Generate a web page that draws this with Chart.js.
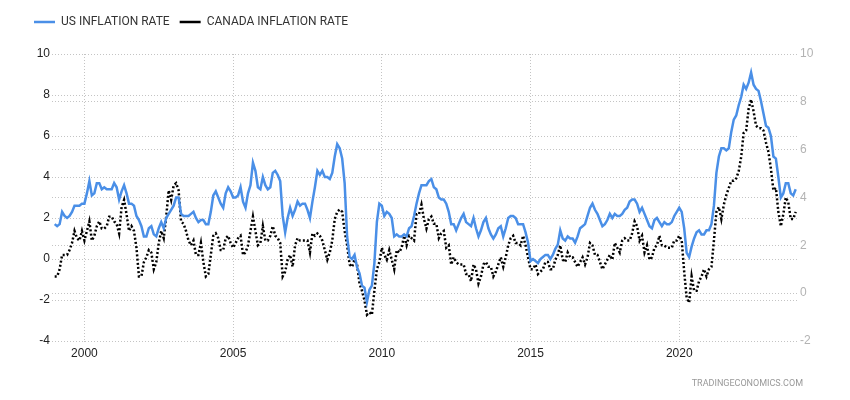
<!DOCTYPE html>
<html lang="en">
<head>
<meta charset="UTF-8">
<title>US vs Canada Inflation Rate</title>
<script src="https://cdn.jsdelivr.net/npm/chart.js"></script>
<style>
    body { margin: 0; background: #fff; }
    .wrap { position: relative; width: 850px; height: 400px; }
    .source { position: absolute; right: 47px; top: 378px; font: 9px Roboto, sans-serif; color: #999; }
</style>
</head>
<body>

<div class="wrap">
    <canvas id="inflationChart"></canvas>
    <div class="source">TRADINGECONOMICS.COM</div>
</div>

<script>
    // monthly readings, Jan 1999 .. Dec 2023 (one row per year)
    const firstYear = 1999;

    const usRate = [
        1.7, 1.6, 1.7, 2.3, 2.1, 2.0, 2.1, 2.3, 2.6, 2.6, 2.6, 2.7,   // 1999
        2.7, 3.2, 3.8, 3.1, 3.2, 3.7, 3.7, 3.4, 3.5, 3.4, 3.4, 3.4,   // 2000
        3.7, 3.5, 2.9, 3.3, 3.6, 3.2, 2.7, 2.7, 2.6, 2.1, 1.9, 1.6,   // 2001
        1.1, 1.1, 1.5, 1.6, 1.2, 1.1, 1.5, 1.8, 1.5, 2.0, 2.2, 2.4,   // 2002
        2.6, 3.0, 3.0, 2.2, 2.1, 2.1, 2.1, 2.2, 2.3, 2.0, 1.8, 1.9,   // 2003
        1.9, 1.7, 1.7, 2.3, 3.1, 3.3, 3.0, 2.7, 2.5, 3.2, 3.5, 3.3,   // 2004
        3.0, 3.0, 3.1, 3.5, 2.8, 2.5, 3.2, 3.6, 4.7, 4.3, 3.5, 3.4,   // 2005
        4.0, 3.6, 3.4, 3.5, 4.2, 4.3, 4.1, 3.8, 2.1, 1.3, 2.0, 2.5,   // 2006
        2.1, 2.4, 2.8, 2.6, 2.7, 2.7, 2.4, 2.0, 2.8, 3.5, 4.3, 4.1,   // 2007
        4.3, 4.0, 4.0, 3.9, 4.2, 5.0, 5.6, 5.4, 4.9, 3.7, 1.1, 0.1,   // 2008
        0.0, 0.2, -0.4, -0.7, -1.3, -1.4, -2.1, -1.5, -1.3, -0.2, 1.8, 2.7, // 2009
        2.6, 2.1, 2.3, 2.2, 2.0, 1.1, 1.2, 1.1, 1.1, 1.2, 1.1, 1.5,   // 2010
        1.6, 2.1, 2.7, 3.2, 3.6, 3.6, 3.6, 3.8, 3.9, 3.5, 3.4, 3.0,   // 2011
        2.9, 2.9, 2.7, 2.3, 1.7, 1.7, 1.4, 1.7, 2.0, 2.2, 1.8, 1.7,   // 2012
        1.6, 2.0, 1.5, 1.1, 1.4, 1.8, 2.0, 1.5, 1.2, 1.0, 1.2, 1.5,   // 2013
        1.6, 1.1, 1.5, 2.0, 2.1, 2.1, 2.0, 1.7, 1.7, 1.7, 1.3, 0.8,   // 2014
        -0.1, 0.0, -0.1, -0.2, 0.0, 0.1, 0.2, 0.2, 0.0, 0.2, 0.5, 0.7, // 2015
        1.4, 1.0, 0.9, 1.1, 1.0, 1.0, 0.8, 1.1, 1.5, 1.6, 1.7, 2.1,   // 2016
        2.5, 2.7, 2.4, 2.2, 1.9, 1.6, 1.7, 1.9, 2.2, 2.0, 2.2, 2.1,   // 2017
        2.1, 2.2, 2.4, 2.5, 2.8, 2.9, 2.9, 2.7, 2.3, 2.5, 2.2, 1.9,   // 2018
        1.6, 1.5, 1.9, 2.0, 1.8, 1.6, 1.8, 1.7, 1.7, 1.8, 2.1, 2.3,   // 2019
        2.5, 2.3, 1.5, 0.3, 0.1, 0.6, 1.0, 1.3, 1.4, 1.2, 1.2, 1.4,   // 2020
        1.4, 1.7, 2.6, 4.2, 5.0, 5.4, 5.4, 5.3, 5.4, 6.2, 6.8, 7.0,   // 2021
        7.5, 7.9, 8.5, 8.3, 8.6, 9.1, 8.5, 8.3, 8.2, 7.7, 7.1, 6.5,   // 2022
        6.4, 6.0, 5.0, 4.9, 4.0, 3.0, 3.2, 3.7, 3.7, 3.2, 3.1, 3.4    // 2023
    ];

    const caRate = [
        0.7, 0.7, 1.0, 1.6, 1.6, 1.6, 1.8, 2.1, 2.6, 2.3, 2.2, 2.6,   // 1999
        2.2, 2.6, 3.0, 2.2, 2.4, 2.8, 3.0, 2.7, 2.7, 2.8, 3.2, 3.2,   // 2000
        3.0, 2.9, 2.5, 3.6, 3.9, 3.3, 2.6, 2.8, 2.6, 1.9, 0.7, 0.7,   // 2001
        1.3, 1.5, 1.8, 1.7, 1.0, 1.3, 2.1, 2.6, 2.3, 3.2, 4.3, 3.9,   // 2002
        4.5, 4.6, 4.3, 3.0, 2.9, 2.6, 2.2, 2.0, 2.2, 1.6, 1.6, 2.1,   // 2003
        1.3, 0.7, 0.8, 1.6, 2.4, 2.5, 2.3, 1.8, 1.8, 2.3, 2.4, 2.1,   // 2004
        1.9, 2.1, 2.3, 2.4, 1.6, 1.7, 2.0, 2.6, 3.2, 2.6, 2.0, 2.1,   // 2005
        2.8, 2.2, 2.2, 2.4, 2.8, 2.4, 2.3, 2.1, 0.7, 0.9, 1.4, 1.6,   // 2006
        1.1, 2.0, 2.3, 2.2, 2.2, 2.2, 2.2, 1.7, 2.5, 2.4, 2.5, 2.4,   // 2007
        2.2, 1.8, 1.4, 1.7, 2.2, 3.1, 3.4, 3.5, 3.4, 2.6, 2.0, 1.2,   // 2008
        1.1, 1.4, 1.2, 0.4, 0.1, -0.3, -0.9, -0.8, -0.9, 0.1, 1.0, 1.3, // 2009
        1.9, 1.6, 1.4, 1.8, 1.4, 1.0, 1.8, 1.7, 1.9, 2.4, 2.0, 2.4,   // 2010
        2.3, 2.2, 3.3, 3.3, 3.7, 3.1, 2.7, 3.1, 3.2, 2.9, 2.9, 2.3,   // 2011
        2.5, 2.6, 1.9, 2.0, 1.2, 1.5, 1.3, 1.2, 1.2, 1.2, 0.8, 0.8,   // 2012
        0.5, 1.2, 1.0, 0.4, 0.7, 1.2, 1.3, 1.1, 1.1, 0.7, 0.9, 1.2,   // 2013
        1.5, 1.1, 1.5, 2.0, 2.3, 2.4, 2.1, 2.1, 2.0, 2.4, 2.0, 1.5,   // 2014
        1.0, 1.0, 1.2, 0.8, 0.9, 1.0, 1.3, 1.3, 1.0, 1.0, 1.4, 1.6,   // 2015
        2.0, 1.4, 1.3, 1.7, 1.5, 1.5, 1.3, 1.1, 1.3, 1.5, 1.2, 1.5,   // 2016
        2.1, 2.0, 1.6, 1.6, 1.3, 1.0, 1.2, 1.4, 1.6, 1.4, 2.1, 1.9,   // 2017
        1.7, 2.2, 2.3, 2.2, 2.2, 2.5, 3.0, 2.8, 2.2, 2.4, 1.7, 2.0,   // 2018
        1.4, 1.5, 1.9, 2.0, 2.4, 2.0, 2.0, 1.9, 1.9, 1.9, 2.2, 2.2,   // 2019
        2.4, 2.2, 0.9, -0.2, -0.4, 0.7, 0.1, 0.1, 0.5, 0.7, 1.0, 0.7, // 2020
        1.0, 1.1, 2.2, 3.4, 3.6, 3.1, 3.7, 4.1, 4.4, 4.7, 4.7, 4.8,   // 2021
        5.1, 5.7, 6.7, 6.8, 7.7, 8.1, 7.6, 7.0, 6.9, 6.9, 6.8, 6.3,   // 2022
        5.9, 5.2, 4.3, 4.4, 3.4, 2.8, 3.3, 4.0, 3.8, 3.1, 3.1, 3.4    // 2023
    ];

    const yearTicks = [2000, 2005, 2010, 2015, 2020];
    const usTicks = [-4, -2, 0, 2, 4, 6, 8, 10];
    const caTicks = [-2, 0, 2, 4, 6, 8, 10];

    // pair each reading with its month as a decimal year
    const toPoints = arr => arr.map((v, i) => ({ x: firstYear + i / 12, y: v }));

    const gridColor = '#c4c4c4';
    const tickFont = { family: 'Liberation Sans, Arial, sans-serif', size: 12 };

    // push the plot area down below the legend
    const legendGap = {
        id: 'legendGap',
        afterInit(chart) {
            const fit = chart.legend.fit;
            chart.legend.fit = function () {
                fit.call(this);
                this.height = 48;
            };
        }
    };

    const ctx = document.getElementById('inflationChart').getContext('2d');
    const inflationChart = new Chart(ctx, {
        type: 'line',
        data: {
            datasets: [{
                label: 'US INFLATION RATE',
                data: toPoints(usRate),
                yAxisID: 'y',
                borderColor: '#4a8fe7',
                borderWidth: 2.5,
                pointRadius: 0,
                pointStyle: 'line',
                tension: 0
            }, {
                label: 'CANADA INFLATION RATE',
                data: toPoints(caRate),
                yAxisID: 'y1',
                borderColor: '#000',
                borderWidth: 2.5,
                borderDash: [2, 2.2],
                pointRadius: 0,
                pointStyle: 'line',
                tension: 0
            }]
        },
        options: {
            responsive: true,
            maintainAspectRatio: false,
            animation: false,
            layout: { padding: { top: 6, left: 24, right: 0, bottom: 0 } },
            scales: {
                x: {
                    type: 'linear',
                    min: 1998.91,
                    max: 2023.96,
                    afterBuildTicks: s => { s.ticks = yearTicks.map(v => ({ value: v })); },
                    afterFit: s => { s.height = 59; },
                    border: { display: false, dash: [1, 2] },
                    grid: {
                        color: gridColor,
                        tickBorderDash: [1, 2],
                        tickLength: 3
                    },
                    ticks: {
                        font: tickFont,
                        color: '#222',
                        padding: 2,
                        maxRotation: 0,
                        callback: v => String(v)
                    }
                },
                y: {
                    position: 'left',
                    min: -4,
                    max: 10,
                    afterBuildTicks: s => { s.ticks = usTicks.map(v => ({ value: v })); },
                    afterFit: s => { s.width = 28; },
                    border: { display: false, dash: [1, 2] },
                    grid: { color: gridColor, drawTicks: false },
                    ticks: { font: tickFont, color: '#222', padding: 2 }
                },
                y1: {
                    position: 'right',
                    min: -2,
                    max: 10,
                    afterBuildTicks: s => { s.ticks = caTicks.map(v => ({ value: v })); },
                    afterFit: s => { s.width = 53; },
                    border: { display: false, dash: [1, 2] },
                    grid: { color: gridColor, drawTicks: false },
                    ticks: { font: tickFont, color: '#b3b3b3', padding: 3 }
                }
            },
            plugins: {
                legend: {
                    position: 'top',
                    align: 'start',
                    labels: {
                        usePointStyle: true,
                        pointStyleWidth: 21,
                        padding: 10,
                        color: '#333',
                        font: { family: 'Roboto, sans-serif', size: 12 }
                    }
                },
                tooltip: { enabled: false }
            }
        },
        plugins: [legendGap]
    });
</script>

</body>
</html>
